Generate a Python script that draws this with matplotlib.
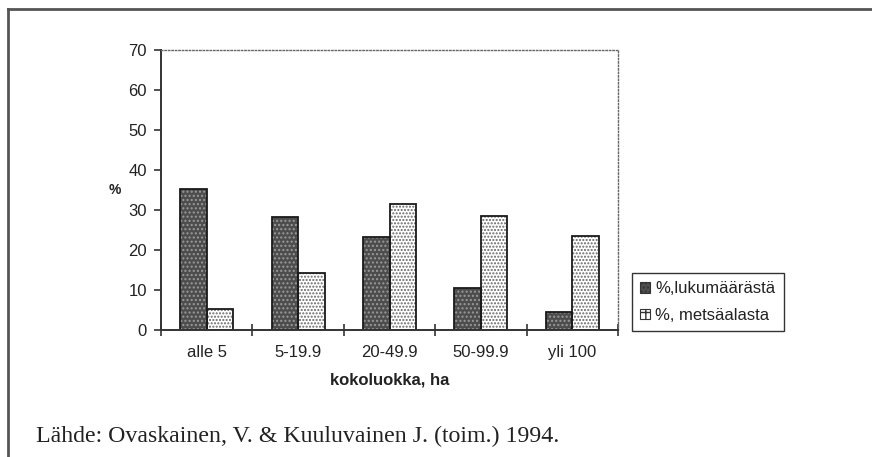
import matplotlib
matplotlib.use("Agg")
import matplotlib.pyplot as plt
from matplotlib.lines import Line2D
from matplotlib.patches import Rectangle
import numpy as np

categories = ["alle 5", "5-19.9", "20-49.9", "50-99.9", "yli 100"]
lukumaara = [35.2, 28.3, 23.2, 10.4, 4.4]
metsaala = [5.3, 14.2, 31.4, 28.5, 23.4]
series_labels = ["%,lukumäärästä", "%, metsäalasta"]
yticks = [0, 10, 20, 30, 40, 50, 60, 70]

plt.rcParams['hatch.linewidth'] = 1.0
txt = '#222222'
fs = 12

fig = plt.figure(figsize=(8.72, 4.57), dpi=100)
ax = fig.add_axes([161/872, 1-330/457, (618-161)/872, (330-50)/457])

x = np.arange(len(categories))
w = 0.29
# hatch layers
ax.bar(x - w/2, lukumaara, w, color='#4d4d4d', hatch='....', edgecolor='#9a9a9a', linewidth=0)
ax.bar(x + w/2, metsaala, w, color='white', hatch='.....', edgecolor='#666666', linewidth=0)
# outlines
ax.bar(x - w/2, lukumaara, w, fill=False, edgecolor='#1a1a1a', linewidth=1.3)
ax.bar(x + w/2, metsaala, w, fill=False, edgecolor='#1a1a1a', linewidth=1.3)

ax.set_xlim(-0.5, len(categories) - 0.5)
ax.set_ylim(0, 70)
ax.set_yticks(yticks)
ax.set_yticklabels([str(v) for v in yticks], fontsize=fs, color=txt, family='Liberation Sans')
ax.set_xticks(x)
ax.set_xticklabels(categories, fontsize=fs, color=txt, family='Liberation Sans')
ax.set_xticks(np.arange(-0.5, len(categories)), minor=True)
ax.tick_params(axis='x', which='major', length=0, pad=11)
ax.tick_params(axis='x', which='minor', length=9, direction='inout', width=1.2, color='#333')
ax.tick_params(axis='y', length=5, direction='out', width=1.2, color='#333', pad=5)

for s in ['left', 'bottom']:
    ax.spines[s].set_color('#333333')
    ax.spines[s].set_linewidth(1.4)
for s in ['top', 'right']:
    ax.spines[s].set_color('#666666')
    ax.spines[s].set_linewidth(1.0)
    ax.spines[s].set_linestyle((0, (1, 1.5)))

ax.set_xlabel("kokoluokka, ha", fontsize=fs, fontweight='bold', color=txt,
              family='Liberation Sans', labelpad=9)
fig.text(115/872, 1-190/457, "%", fontsize=10, fontweight='bold', color=txt,
         family='Liberation Sans', ha='center', va='center')

handles = [Rectangle((0, 0), 1, 1, facecolor='#4d4d4d', hatch='....', edgecolor='#333333', linewidth=0.8),
           Rectangle((0, 0), 1, 1, facecolor='white', hatch='++', edgecolor='#333333', linewidth=0.8)]
leg = ax.legend(handles, series_labels, loc='upper left',
                bbox_to_anchor=(632/872, 1-273/457), bbox_transform=fig.transFigure,
                borderaxespad=0, fancybox=False, framealpha=1, edgecolor='#333333',
                handlelength=0.6, handleheight=0.6, handletextpad=0.3,
                labelspacing=0.7, borderpad=0.5,
                prop={'family': 'Liberation Sans', 'size': fs})
leg.get_frame().set_linewidth(1.0)
for t in leg.get_texts():
    t.set_color(txt)

fig.text(36/872, 1-436/457, "Lähde: Ovaskainen, V. & Kuuluvainen J. (toim.) 1994.",
         fontsize=17.2, family='Liberation Serif', color=txt, ha='left', va='center')

# outer frame (left and top)
fig.add_artist(Line2D([8/872, 8/872], [0, 1-9/457], transform=fig.transFigure,
                      color='#555555', linewidth=2))
fig.add_artist(Line2D([8/872, 1], [1-9/457, 1-9/457], transform=fig.transFigure,
                      color='#555555', linewidth=2))

fig.savefig("out.png", dpi=100)
